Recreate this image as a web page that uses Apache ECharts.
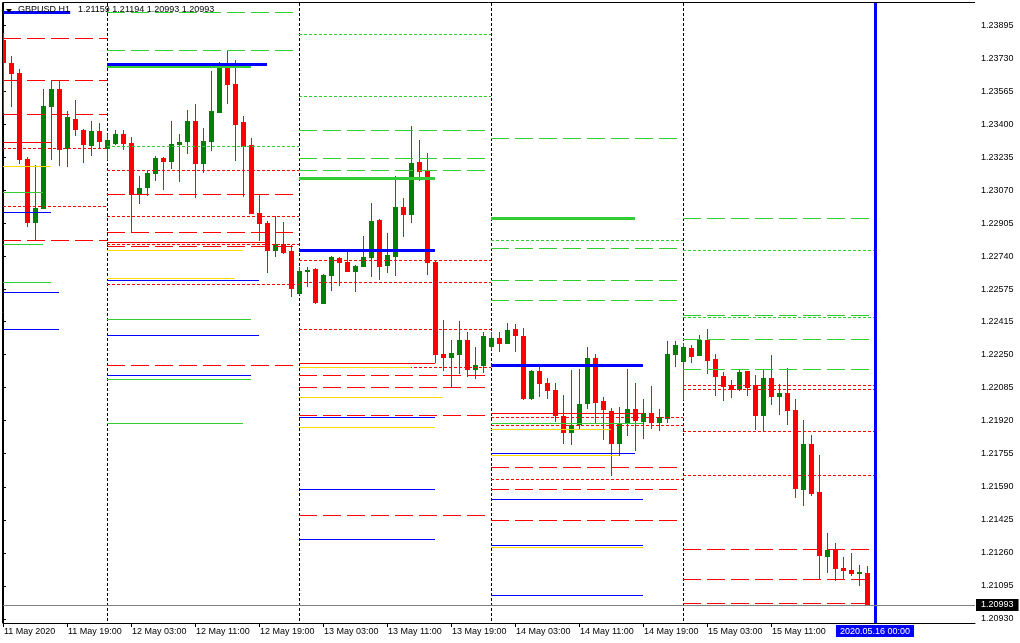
<!DOCTYPE html>
<html><head><meta charset="utf-8">
<script src="https://cdn.jsdelivr.net/npm/echarts@6/dist/echarts.min.js"></script>
<style>html,body{margin:0;padding:0;background:#fff}#c{width:1020px;height:643px}</style>
</head><body><div id="c"></div>
<script>
// ---------- data ----------
const symbolName = 'GBPUSD,H1';
const lastOHLC = ['1.21159', '1.21194', '1.20993', '1.20993'];
const timeLabelBars = [0, 8, 16, 24, 32, 40, 48, 56, 64, 72, 80, 88, 96];
const timeLabels = ['11 May 2020', '11 May 19:00', '12 May 03:00', '12 May 11:00', '12 May 19:00', '13 May 03:00',
  '13 May 11:00', '13 May 19:00', '14 May 03:00', '14 May 11:00', '14 May 19:00', '15 May 03:00', '15 May 11:00'];
const priceTicks = [1.23895, 1.23730, 1.23565, 1.23400, 1.23235, 1.23070, 1.22905, 1.22740, 1.22575, 1.22415,
  1.22250, 1.22085, 1.21920, 1.21755, 1.21590, 1.21425, 1.21260, 1.21095, 1.20930];
const daySeparatorBars = [13, 37, 61, 85];
const cursorBar = 109;
const cursorTimeLabel = '2020.05.16 00:00';
const bidPrice = 1.20993;
const bidLabel = '1.20993';

// H1 candles from 11 May 11:00: [open, high, low, close]
const candles = [
  [1.23820,1.23855,1.23456,1.23705],[1.23707,1.23740,1.23486,1.23650],[1.23657,1.23675,1.23201,1.23221],
  [1.23226,1.23235,1.22888,1.22908],[1.22908,1.23196,1.22820,1.22983],[1.22978,1.23576,1.22977,1.23491],
  [1.23487,1.23620,1.23221,1.23576],[1.23576,1.23616,1.23193,1.23271],[1.23278,1.23466,1.23188,1.23434],
  [1.23426,1.23521,1.23343,1.23371],[1.23371,1.23376,1.23208,1.23298],[1.23293,1.23416,1.23243,1.23364],
  [1.23364,1.23404,1.23278,1.23313],
  [1.23278,1.23351,1.23220,1.23321],[1.23303,1.23371,1.23296,1.23351],[1.23351,1.23371,1.23273,1.23303],
  [1.23306,1.23336,1.22860,1.23048],[1.23048,1.23141,1.23003,1.23082],[1.23083,1.23166,1.23043,1.23156],
  [1.23153,1.23241,1.23118,1.23231],[1.23231,1.23236,1.23073,1.23213],[1.23213,1.23416,1.23178,1.23303],
  [1.23298,1.23351,1.23113,1.23311],[1.23311,1.23471,1.23253,1.23416],[1.23416,1.23501,1.23033,1.23203],
  [1.23203,1.23381,1.23158,1.23316],[1.23311,1.23665,1.23266,1.23466],[1.23457,1.23712,1.23456,1.23704],
  [1.23700,1.23770,1.23501,1.23596],[1.23601,1.23720,1.23218,1.23397],[1.23411,1.23441,1.23038,1.23288],
  [1.23296,1.23331,1.22952,1.22953],[1.22957,1.23048,1.22817,1.22903],[1.22907,1.22918,1.22659,1.22769],
  [1.22769,1.22940,1.22739,1.22802],[1.22802,1.22912,1.22752,1.22759],[1.22767,1.22796,1.22539,1.22579],
  [1.22554,1.22689,1.22547,1.22667],[1.22662,1.22689,1.22589,1.22672],[1.22677,1.22682,1.22501,1.22509],
  [1.22504,1.22652,1.22501,1.22647],[1.22644,1.22742,1.22567,1.22737],[1.22732,1.22737,1.22594,1.22709],
  [1.22712,1.22777,1.22662,1.22664],[1.22664,1.22697,1.22564,1.22694],[1.22689,1.22842,1.22687,1.22737],
  [1.22734,1.23007,1.22639,1.22917],[1.22922,1.22927,1.22624,1.22689],[1.22694,1.22857,1.22659,1.22747],
  [1.22739,1.23141,1.22644,1.22987],[1.22987,1.23032,1.22838,1.22948],[1.22948,1.23391,1.22908,1.23206],
  [1.23211,1.23321,1.23118,1.23163],[1.23168,1.23256,1.22649,1.22709],[1.22712,1.22717,1.22208,1.22250],
  [1.22253,1.22423,1.22170,1.22235],[1.22235,1.22323,1.22087,1.22258],[1.22250,1.22418,1.22155,1.22323],
  [1.22323,1.22363,1.22140,1.22175],[1.22175,1.22288,1.22130,1.22198],[1.22195,1.22363,1.22160,1.22343],
  [1.22289,1.22363,1.22273,1.22333],[1.22333,1.22363,1.22263,1.22303],[1.22304,1.22408,1.22303,1.22373],
  [1.22378,1.22403,1.22263,1.22343],[1.22343,1.22383,1.22023,1.22028],[1.22028,1.22173,1.22023,1.22168],
  [1.22168,1.22188,1.22038,1.22103],[1.22108,1.22133,1.22028,1.22070],[1.22073,1.22108,1.21915,1.21945],
  [1.21945,1.22048,1.21805,1.21860],[1.21860,1.22173,1.21800,1.21899],[1.21899,1.22178,1.21879,1.22003],
  [1.22005,1.22288,1.21980,1.22233],[1.22233,1.22253,1.21907,1.22010],[1.22017,1.22038,1.21825,1.21975],
  [1.21969,1.21985,1.21646,1.21805],[1.21805,1.21989,1.21745,1.21909],[1.21905,1.22178,1.21845,1.21979],
  [1.21979,1.22108,1.21770,1.21920],[1.21915,1.22028,1.21830,1.21959],[1.21959,1.22093,1.21880,1.21910],
  [1.21910,1.21979,1.21870,1.21939],[1.21930,1.22318,1.21910,1.22253],[1.22250,1.22318,1.22190,1.22298],
  [1.22215,1.22306,1.22023,1.22288],[1.22283,1.22298,1.22210,1.22240],[1.22245,1.22348,1.22243,1.22323],
  [1.22323,1.22378,1.22155,1.22220],[1.22228,1.22253,1.22045,1.22140],[1.22143,1.22163,1.22020,1.22090],
  [1.22097,1.22123,1.22035,1.22075],[1.22075,1.22173,1.22070,1.22163],[1.22168,1.22168,1.22045,1.22085],
  [1.22097,1.22148,1.21875,1.21945],[1.21945,1.22178,1.21862,1.22133],[1.22133,1.22248,1.22000,1.22040],
  [1.22040,1.22103,1.21950,1.22058],[1.22058,1.22183,1.21900,1.21970],[1.21975,1.22028,1.21536,1.21581],
  [1.21576,1.21925,1.21496,1.21805],[1.21805,1.21850,1.21546,1.21556],[1.21566,1.21750,1.21129,1.21246],
  [1.21241,1.21361,1.21161,1.21276],[1.21280,1.21311,1.21122,1.21181],[1.21186,1.21241,1.21129,1.21171],
  [1.21176,1.21261,1.21147,1.21157],[1.21155,1.21200,1.21097,1.21165],[1.21159,1.21194,1.20993,1.20993]
];

// horizontal level objects: [startBar, endBar, price]
const blueThickLevels = [[0,8.4,1.23960],[13,33,1.23700],[37,54,1.22772],[61,80,1.22197]];
const greenThickLevels = [[13,31,1.23689],[37,54,1.23130],[61,79,1.22930]];
const blueLevels = [[0,6,1.22960],[0,7,1.22561],[0,7,1.22376],[13,32,1.22621],[13,32,1.22346],[13,31,1.22147],
  [37,54,1.21937],[37,54,1.21578],[37,54,1.21328],[61,79,1.21757],[61,80,1.21528],[61,80,1.21298],[61,80,1.21049]];
const greenLevels = [[0,5,1.23060],[0,5,1.22800],[0,6,1.22611],[13,31,1.22426],[13,31,1.22127],[13,30,1.21907],
  [61,80,1.21907]];
const yellowLevels = [[0,6,1.23190],[13,30,1.22771],[13,29,1.22631],[37,51,1.22187],[37,55,1.22037],[37,54,1.21887],
  [61,77,1.21747],[61,76,1.21877],[61,80,1.21288]];
const redLevels = [[0,6,1.23310],[13,33,1.22810],[37,54,1.22208],[61,80,1.21957]];
const redDashLevels = [[0,13,1.23829],[0,13,1.23619],[0,13,1.23449],[0,13,1.22820],
  [13,37,1.23050],[13,37,1.22860],[13,37,1.22790],[13,37,1.22197],
  [37,61,1.22147],[37,61,1.22087],[37,61,1.21947],[37,61,1.21448],
  [61,85,1.21688],[61,85,1.21578],[61,85,1.21423],
  [85,109,1.21278],[85,109,1.21129],[85,109,1.21009]];
const redDotLevels = [[0,13,1.23280],[0,13,1.22990],
  [13,37,1.23170],[13,37,1.22940],[13,37,1.22800],[13,37,1.22601],
  [37,61,1.22721],[37,61,1.22611],[37,61,1.22376],[37,61,1.22187],
  [61,85,1.21937],[61,85,1.21897],[61,85,1.21628],
  [85,109,1.22097],[85,109,1.22077],[85,109,1.21867],[85,109,1.21648]];
const greenDashLevels = [[13,37,1.23960],[13,37,1.23769],
  [37,61,1.23369],[37,61,1.23230],[37,61,1.23170],
  [61,85,1.23331],[61,85,1.22781],[61,85,1.22621],[61,85,1.22521],
  [85,109,1.22930],[85,109,1.22446],[85,109,1.22326],[85,109,1.22177]];
const greenDotLevels = [[13,37,1.23290],[37,61,1.23849],[37,61,1.23539],[61,85,1.22820],[85,109,1.22771],[85,109,1.22436]];

// ---------- chart ----------
const FONT = 'Liberation Sans';
const chart = echarts.init(document.getElementById('c'), null, {renderer: 'canvas'});

function levelSeries(data, color, width, dash, z) {
  return {
    type: 'custom', z: z, silent: true, clip: true, animation: false,
    data: data, encode: {x: [0, 1], y: 2},
    renderItem: function (params, api) {
      const a = api.coord([api.value(0), api.value(2)]);
      const b = api.coord([api.value(1), api.value(2)]);
      let y = Math.round(a[1]);
      if (width % 2 === 1) y += 0.5;
      return {type: 'line', shape: {x1: a[0], y1: y, x2: b[0], y2: y},
        style: {stroke: color, lineWidth: width, lineDash: dash}};
    }
  };
}

const UP = '#008000', DOWN = '#ff0000';
const candleSeries = {
  type: 'custom', z: 3, silent: true, clip: true, animation: false,
  data: candles.map((d, i) => [i, d[0], d[1], d[2], d[3]]),
  encode: {x: 0, y: [1, 2, 3, 4]},
  renderItem: function (params, api) {
    const k = api.value(0), o = api.value(1), h = api.value(2), l = api.value(3), c = api.value(4);
    const x = Math.round(api.coord([k, o])[0]);
    const yo = Math.round(api.coord([k, o])[1]), yc = Math.round(api.coord([k, c])[1]);
    const yh = Math.round(api.coord([k, h])[1]), yl = Math.round(api.coord([k, l])[1]);
    const col = c > o ? UP : DOWN;
    const top = Math.min(yo, yc), bot = Math.max(yo, yc);
    return {type: 'group', children: [
      {type: 'rect', shape: {x: x, y: yh, width: 1, height: Math.max(1, yl - yh)}, style: {fill: col}},
      {type: 'rect', shape: {x: x - 2, y: top, width: 5, height: Math.max(1, bot - top)}, style: {fill: col}}
    ]};
  },
  markLine: {
    silent: true, symbol: 'none', animation: false, z: 10,
    data: [
      {xAxis: cursorBar, lineStyle: {color: '#0000ff', width: 3, type: 'solid'},
       label: {show: true, position: 'start', formatter: cursorTimeLabel, color: '#ffffff', backgroundColor: '#0000ff',
         fontFamily: FONT, fontSize: 9, padding: [2, 4, 1, 4], distance: 2}},
      {yAxis: bidPrice, lineStyle: {color: '#808080', width: 1, type: 'solid'},
       label: {show: true, position: 'end', formatter: bidLabel, color: '#ffffff', backgroundColor: '#000000',
         fontFamily: FONT, fontSize: 9, padding: [2, 5, 1, 5], distance: 1}}
    ]
  }
};

const separatorSeries = {
  type: 'custom', z: 1, silent: true, clip: true, animation: false,
  data: daySeparatorBars.map(k => [k]), encode: {x: 0},
  renderItem: function (params, api) {
    const x = Math.round(api.coord([api.value(0), 1.22])[0]) + 0.5;
    const cs = params.coordSys;
    return {type: 'line', shape: {x1: x, y1: cs.y, x2: x, y2: cs.y + cs.height},
      style: {stroke: '#000000', lineWidth: 1, lineDash: [3, 2]}};
  }
};

const option = {
  backgroundColor: '#ffffff',
  animation: false,
  grid: {left: 3, right: 45, top: 3, bottom: 20, show: false},
  xAxis: {
    type: 'value', min: 0, max: 121.5,
    axisLine: {show: true, lineStyle: {color: '#000', width: 1}},
    splitLine: {show: false},
    axisTick: {show: true, customValues: timeLabelBars, length: 4, lineStyle: {color: '#000'}},
    axisLabel: {customValues: timeLabelBars, showMinLabel: true, showMaxLabel: true,
      formatter: v => timeLabels[timeLabelBars.indexOf(Math.round(v))] || '',
      align: 'left', margin: 4, color: '#000', fontFamily: FONT, fontSize: 9, padding: [0, 0, 0, 1]}
  },
  yAxis: {
    type: 'value', position: 'right', min: 1.20910, max: 1.24005, scale: true,
    axisLine: {show: true, lineStyle: {color: '#000', width: 1}},
    splitLine: {show: false},
    axisTick: {show: true, customValues: priceTicks, length: 3, lineStyle: {color: '#000'}},
    axisLabel: {customValues: priceTicks, showMinLabel: true, showMaxLabel: true,
      formatter: v => v.toFixed(5), margin: 6, color: '#000', fontFamily: FONT, fontSize: 9}
  },
  graphic: [
    {type: 'line', shape: {x1: 2.5, y1: 2.5, x2: 975, y2: 2.5}, style: {stroke: '#000', lineWidth: 1}, z: 20, silent: true},
    {type: 'line', shape: {x1: 2.5, y1: 2.5, x2: 2.5, y2: 623}, style: {stroke: '#000', lineWidth: 1}, z: 20, silent: true},
    {type: 'polygon', shape: {points: [[6, 9], [12, 9], [9, 12.5]]}, style: {fill: '#000'}, z: 20, silent: true},
    {type: 'text', left: 18, top: 5, z: 20, silent: true,
      style: {text: symbolName, fill: '#000', font: '9px "' + FONT + '"'}},
    {type: 'text', left: 78, top: 5, z: 20, silent: true,
      style: {text: lastOHLC.join(' '), fill: '#000', font: '9px "' + FONT + '"'}}
  ],
  series: [
    separatorSeries,
    candleSeries,
    levelSeries(redDashLevels, '#ff0000', 1, [18, 6], 5),
    levelSeries(redDotLevels, '#ff0000', 1, [3, 2], 5),
    levelSeries(greenDashLevels, '#32cd32', 1, [18, 6], 5),
    levelSeries(greenDotLevels, '#32cd32', 1, [3, 2], 5),
    levelSeries(greenLevels, '#32cd32', 1, null, 5),
    levelSeries(blueLevels, '#0000ff', 1, null, 5),
    levelSeries(yellowLevels, '#ffd700', 1, null, 5),
    levelSeries(redLevels, '#ff0000', 1, null, 5),
    levelSeries(greenThickLevels, '#32cd32', 3, null, 6),
    levelSeries(blueThickLevels, '#0000ff', 3, null, 6)
  ]
};
chart.setOption(option);
</script>
</body></html>
